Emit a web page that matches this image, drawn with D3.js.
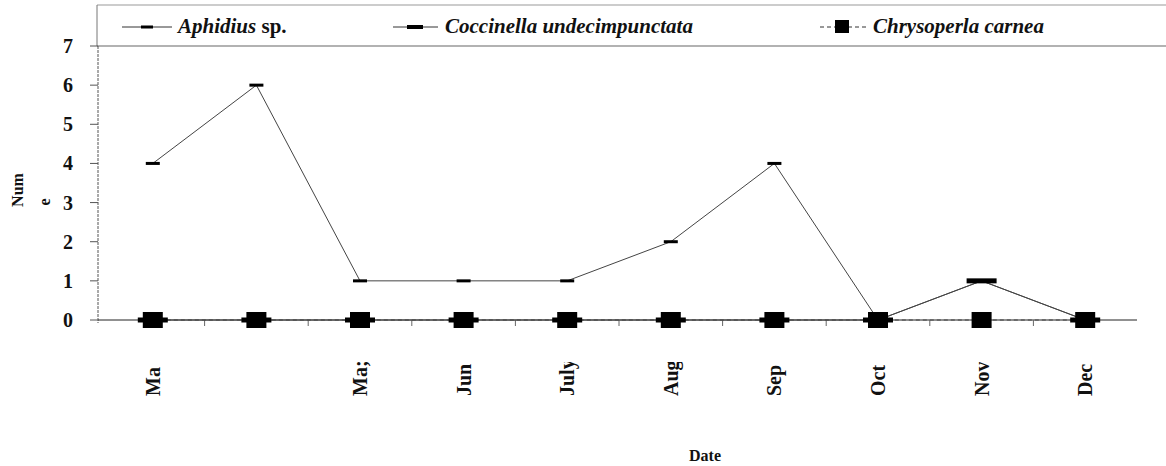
<!DOCTYPE html>
<html>
<head>
<meta charset="utf-8">
<script src="https://cdn.jsdelivr.net/npm/d3@7"></script>
<style>
  body { margin: 0; background: #fff; }
  text { font-family: "Liberation Serif", "DejaVu Serif", serif; font-weight: bold; fill: #111; }
</style>
</head>
<body>
<div id="chart"></div>
<script>
// data
const months = ['Mar', 'Apr', 'May', 'Jun', 'Jul', 'Aug', 'Sep', 'Oct', 'Nov', 'Dec'];
const monthLabels = ['Ma', '', 'Ma;', 'Jun', 'July', 'Aug', 'Sep', 'Oct', 'Nov', 'Dec'];
const aphidius = [4, 6, 1, 1, 1, 2, 4, 0, 1, 0];
const coccinella = [0, 0, 0, 0, 0, 0, 0, 0, 1, 0];
const chrysoperla = [0, 0, 0, 0, 0, 0, 0, 0, 0, 0];
const yTicks = [0, 1, 2, 3, 4, 5, 6, 7];

const width = 1166, height = 466;
const plotLeft = 98, plotRight = 1137, plotTop = 46, plotBottom = 320;

const svg = d3.select('#chart')
  .append('svg')
  .attr('width', width)
  .attr('height', height);

const x = d3.scaleBand().domain(months).range([plotLeft + 3, plotRight]);
const y = d3.scaleLinear().domain([0, 7]).range([plotBottom, plotTop]);
const cx = d => x(d) + x.bandwidth() / 2;

// legend box
svg.append('line').attr('x1', 97).attr('x2', width).attr('y1', 5).attr('y2', 5)
  .attr('stroke', '#999').attr('stroke-width', 1);
svg.append('line').attr('x1', 97).attr('x2', 97).attr('y1', 5).attr('y2', plotTop)
  .attr('stroke', '#777').attr('stroke-width', 1);
svg.append('line').attr('x1', 97).attr('x2', width).attr('y1', plotTop).attr('y2', plotTop)
  .attr('stroke', '#999').attr('stroke-width', 1.5);

// y axis
svg.append('line').attr('x1', plotLeft).attr('x2', plotLeft).attr('y1', plotTop).attr('y2', plotBottom + 3)
  .attr('stroke', '#555').attr('stroke-width', 1).attr('stroke-dasharray', '3,1');
svg.selectAll('.ytick')
  .data(yTicks)
  .enter()
  .append('line')
  .attr('x1', plotLeft - 8).attr('x2', plotLeft)
  .attr('y1', d => y(d)).attr('y2', d => y(d))
  .attr('stroke', '#555');
svg.selectAll('.ylab')
  .data(yTicks)
  .enter()
  .append('text')
  .attr('x', 73)
  .attr('y', d => y(d) + 7)
  .attr('text-anchor', 'end')
  .style('font-size', '20px')
  .text(d => d);

svg.append('text')
  .attr('transform', 'translate(23,190) rotate(-90)')
  .attr('text-anchor', 'middle')
  .style('font-size', '16px')
  .text('Num');
svg.append('text')
  .attr('transform', 'translate(50,202) rotate(-90)')
  .attr('text-anchor', 'middle')
  .style('font-size', '16px')
  .text('e');

// x axis
svg.append('line').attr('x1', plotLeft).attr('x2', plotRight).attr('y1', plotBottom).attr('y2', plotBottom)
  .attr('stroke', '#222').attr('stroke-width', 1);
svg.selectAll('.xtick')
  .data(months.slice(1))
  .enter()
  .append('line')
  .attr('x1', d => x(d)).attr('x2', d => x(d))
  .attr('y1', plotBottom).attr('y2', plotBottom + 6)
  .attr('stroke', '#666');

svg.append('clipPath').attr('id', 'labclip')
  .append('rect').attr('x', 0).attr('y', 362).attr('width', width).attr('height', 60);

svg.append('g').attr('clip-path', 'url(#labclip)')
  .selectAll('.xlab')
  .data(months)
  .enter()
  .append('text')
  .attr('transform', d => `translate(${cx(d) + 7},396) rotate(-90)`)
  .attr('text-anchor', 'start')
  .style('font-size', '20px')
  .text((d, i) => monthLabels[i]);

svg.append('text')
  .attr('x', 705).attr('y', 461)
  .attr('text-anchor', 'middle')
  .style('font-size', '16px')
  .text('Date');

// series
const line = d3.line().x(d => cx(d.m)).y(d => y(d.v));
const series = [
  { name: 'Aphidius', values: aphidius, dash: null, marker: 'dash' },
  { name: 'Coccinella', values: coccinella, dash: null, marker: 'wide' },
  { name: 'Chrysoperla', values: chrysoperla, dash: '4,3', marker: 'square' }
];

series.forEach(s => {
  const pts = months.map((m, i) => ({ m: m, v: s.values[i] }));
  svg.append('path')
    .datum(pts)
    .attr('d', line)
    .attr('fill', 'none')
    .attr('stroke', '#444')
    .attr('stroke-width', 1)
    .attr('stroke-dasharray', s.dash);
});

function marker(g, type, px, py) {
  if (type === 'dash') {
    g.append('rect').attr('x', px - 7).attr('y', py - 1.5).attr('width', 14).attr('height', 3).attr('fill', '#000');
  } else if (type === 'wide') {
    g.append('rect').attr('x', px - 15).attr('y', py - 2.5).attr('width', 30).attr('height', 5).attr('fill', '#000');
  } else {
    g.append('rect').attr('x', px - 10).attr('y', py - 8).attr('width', 20).attr('height', 16).attr('fill', '#000');
  }
}

series.slice().reverse().forEach(s => {
  const g = svg.append('g');
  months.forEach((m, i) => marker(g, s.marker, cx(m), y(s.values[i])));
});

// legend
const legendItems = [
  { x: 122, len: 50, mx: 25, marker: 'dash', dash: null, tx: 56, label: ['Aphidius', ' sp.'] },
  { x: 393, len: 45, mx: 22, marker: 'wide', dash: null, tx: 52, label: ['Coccinella undecimpunctata', ''] },
  { x: 820, len: 47, mx: 22, marker: 'square', dash: '4,3', tx: 53, label: ['Chrysoperla carnea', ''] }
];
legendItems.forEach(d => {
  const g = svg.append('g').attr('transform', `translate(${d.x},27)`);
  g.append('line').attr('x1', 0).attr('x2', d.len).attr('y1', 0).attr('y2', 0)
    .attr('stroke', '#333').attr('stroke-dasharray', d.dash);
  if (d.marker === 'square') {
    g.append('rect').attr('x', d.mx - 7).attr('y', -7).attr('width', 14).attr('height', 13).attr('fill', '#000');
  } else if (d.marker === 'wide') {
    g.append('rect').attr('x', d.mx - 8).attr('y', -2).attr('width', 16).attr('height', 4).attr('fill', '#000');
  } else {
    g.append('rect').attr('x', d.mx - 6).attr('y', -1.5).attr('width', 12).attr('height', 3).attr('fill', '#000');
  }
  const t = g.append('text').attr('x', d.tx).attr('y', 6).style('font-size', '21px');
  t.append('tspan').style('font-style', 'italic').text(d.label[0]);
  if (d.label[1]) t.append('tspan').text(d.label[1]);
});
</script>
</body>
</html>
